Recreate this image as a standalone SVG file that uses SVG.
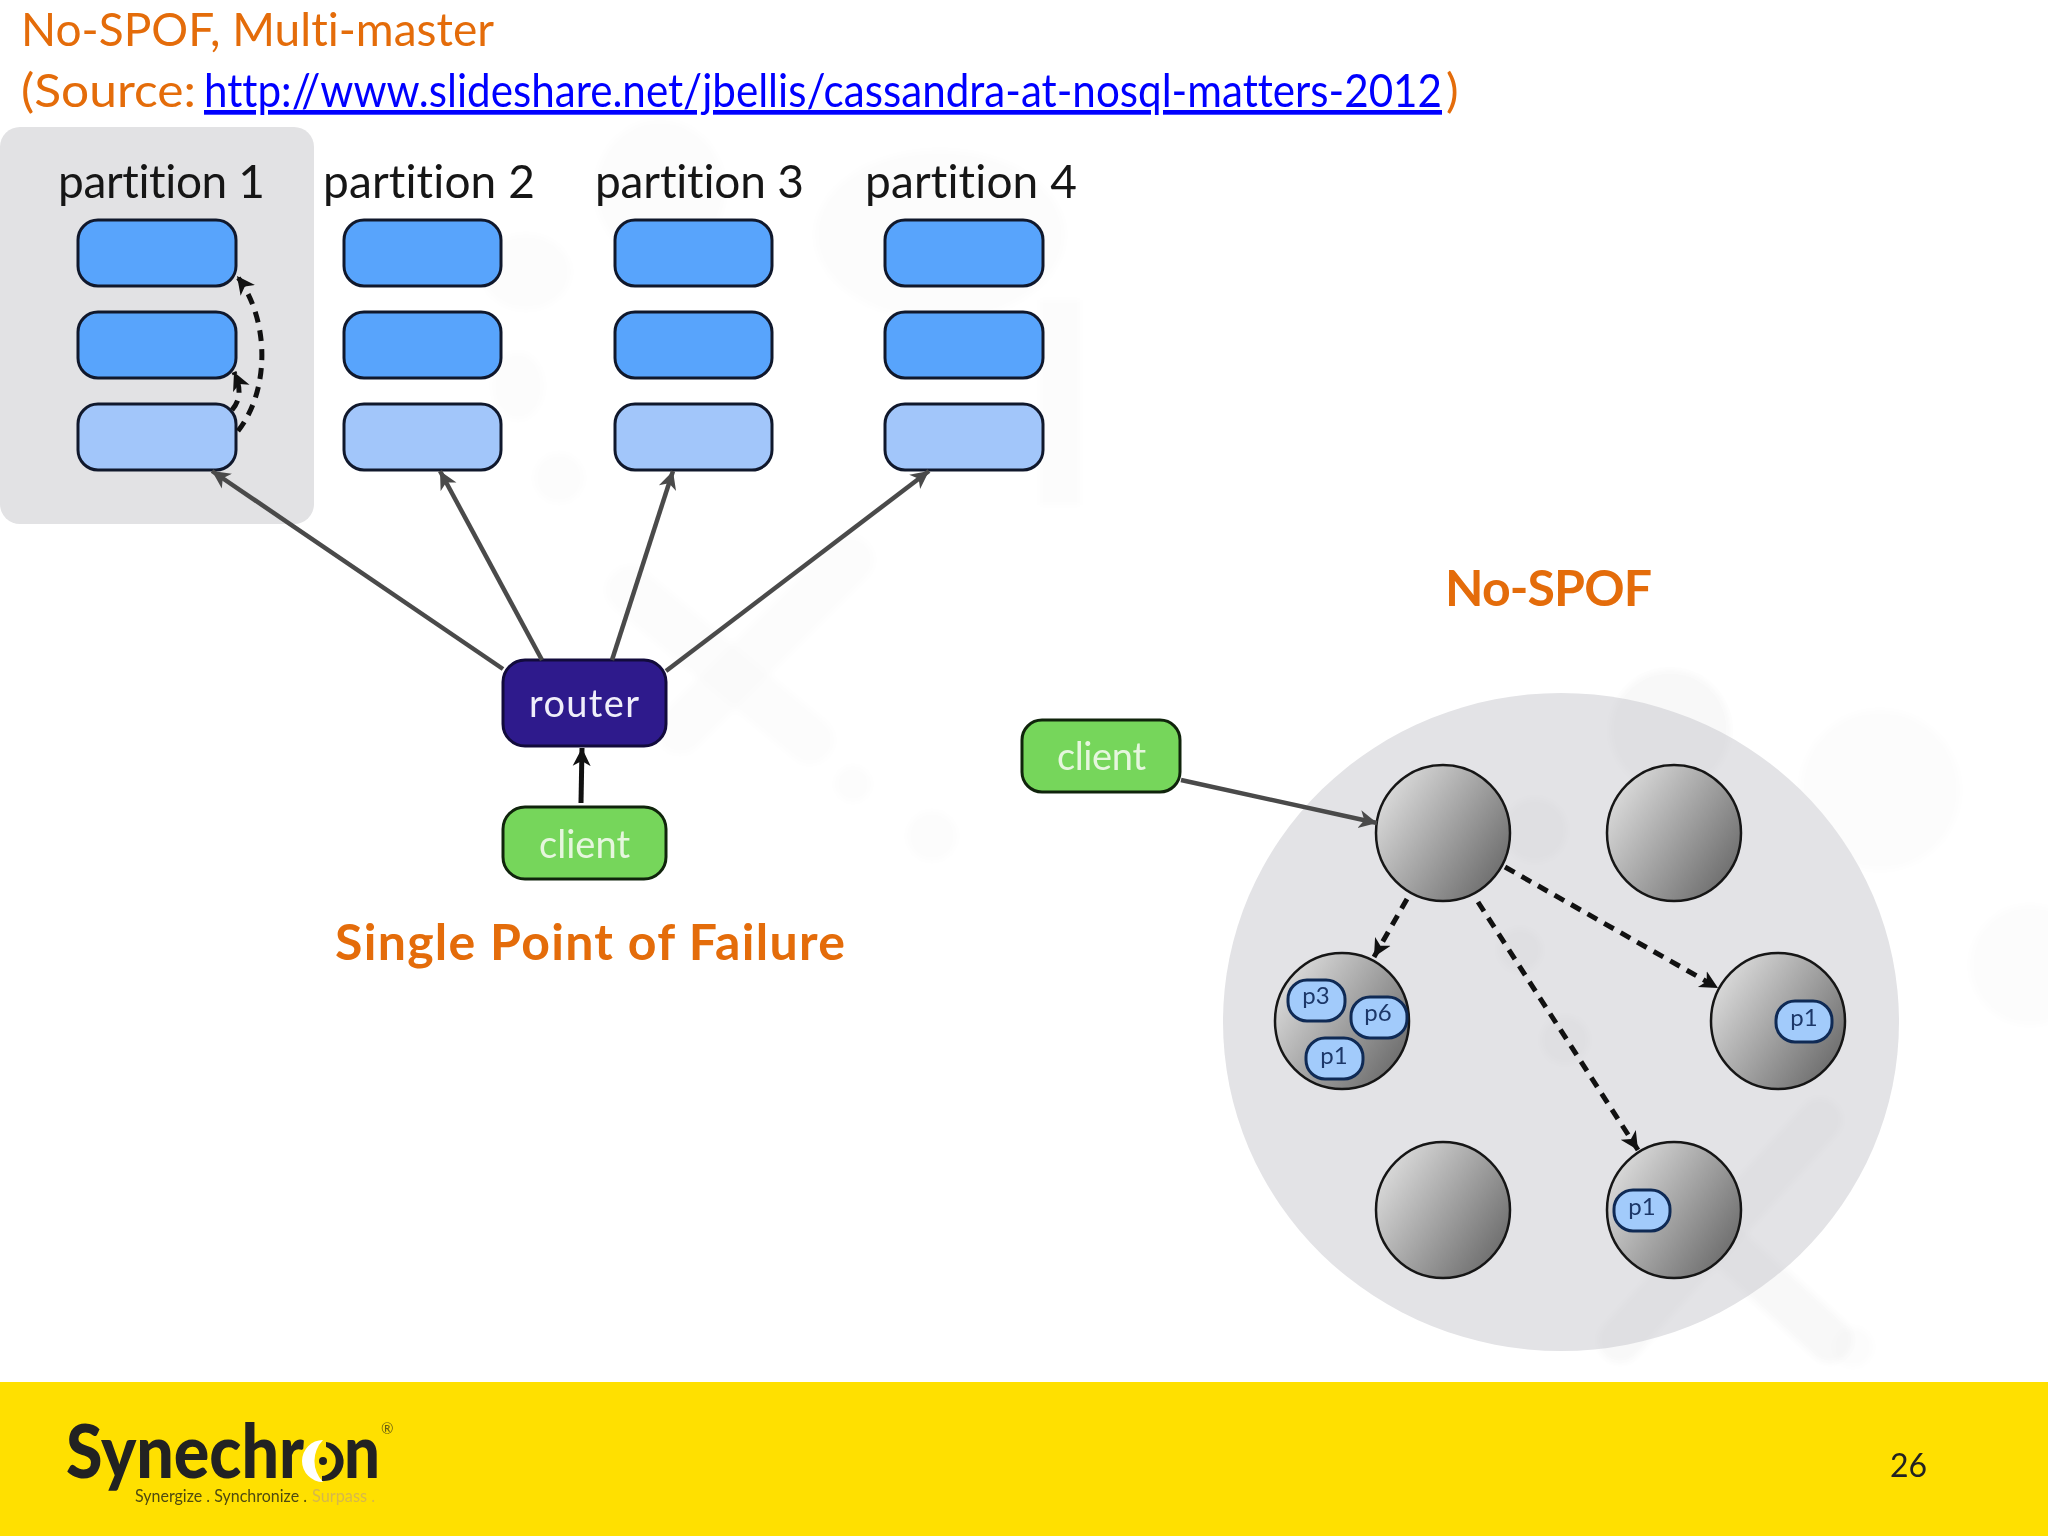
<svg xmlns="http://www.w3.org/2000/svg" width="2048" height="1536" viewBox="0 0 2048 1536">
<style>
text{font-variant-ligatures:none}
.ttl{font-family:Lato,"Liberation Sans",sans-serif;font-size:47px;fill:#E46C0A}
.hd{font-family:Lato,"Liberation Sans",sans-serif;font-size:50px;font-weight:700;fill:#E46C0A}
.pt{font-family:Lato,"Liberation Sans",sans-serif;font-size:46px;fill:#161616}
.box{stroke:#10182c;stroke-width:3}
.d{fill:#58A4FC}.l{fill:#A2C6FA}
.node{stroke:#161616;stroke-width:2.5;fill:url(#g)}
.pill{fill:#A2CBFB;stroke:#0f2a55;stroke-width:3}
.pl{font-family:Lato,"Liberation Sans",sans-serif;font-size:24px;fill:#1c3768;text-anchor:middle}
.sl{fill:none;stroke:#4a4a4a;stroke-width:4.5;marker-end:url(#a1)}
.bl{fill:none;stroke:#111;stroke-width:5;marker-end:url(#a2)}
.ds{fill:none;stroke:#111;stroke-width:5;stroke-dasharray:11 8;marker-end:url(#a2)}
.cl{font-family:Lato,"Liberation Sans",sans-serif;font-size:38px;fill:#E6F6DE}
.grn{fill:#76D65B;stroke:#10240c;stroke-width:3}
.wm{fill:#000;opacity:.012}
.wl{stroke:#000;opacity:.012;stroke-width:48;stroke-linecap:round;fill:none}
.wm2{fill:#000;opacity:.016}
.wl2{stroke:#000;opacity:.014;stroke-width:44;stroke-linecap:round;fill:none}
.lg{font-family:Lato,"Liberation Sans",sans-serif;font-weight:900;font-size:74px;fill:#222}
.tg{font-family:Lato,"Liberation Sans",sans-serif;font-size:18px}
</style>
<defs>
<linearGradient id="g" x1="0" y1="0.15" x2="1" y2="0.85"><stop offset="0" stop-color="#e2e2e2"/><stop offset="1" stop-color="#666"/></linearGradient>
<marker id="a1" markerUnits="userSpaceOnUse" markerWidth="24" markerHeight="24" refX="18" refY="10" orient="auto"><path d="M0 1 L18 10 L0 19 L5 10Z" fill="#4a4a4a"/></marker>
<marker id="a2" markerUnits="userSpaceOnUse" markerWidth="24" markerHeight="24" refX="18" refY="10" orient="auto"><path d="M0 1 L18 10 L0 19 L5 10Z" fill="#111"/></marker>
<filter id="b" x="-20%" y="-20%" width="140%" height="140%"><feGaussianBlur stdDeviation="3"/></filter>
</defs>
<rect width="2048" height="1536" fill="#fff"/>
<g id="watermark" filter="url(#b)">
<ellipse class="wm" cx="660" cy="190" rx="65" ry="70"/>
<ellipse class="wm" cx="940" cy="235" rx="125" ry="85"/>
<ellipse class="wm" cx="526" cy="272" rx="45" ry="38"/>
<ellipse class="wm" cx="518" cy="386" rx="26" ry="34"/>
<ellipse class="wm" cx="559" cy="478" rx="25" ry="25"/>
<rect class="wm" x="1040" y="300" width="40" height="205"/>
<path class="wl" d="M630 590 L810 740"/>
<path class="wl" d="M850 560 L680 730"/>
<circle class="wm" cx="853" cy="784" r="18"/>
<circle class="wm" cx="932" cy="836" r="25"/>
<circle class="wm" cx="1670" cy="730" r="60"/>
<circle class="wm" cx="1880" cy="790" r="80"/>
<circle class="wm" cx="2030" cy="965" r="60"/>
<path class="wl" d="M1620 1340 L1820 1120"/>
<path class="wl" d="M1720 1240 L1830 1340"/>
<circle class="wm" cx="1853" cy="1347" r="20"/>
</g>
<g id="titles">
<text class="ttl" x="21" y="46" textLength="473" lengthAdjust="spacingAndGlyphs">No-SPOF, Multi-master</text>
<text class="ttl" x="21" y="107" textLength="175" lengthAdjust="spacingAndGlyphs">(Source:</text>
<text class="ttl" x="204" y="107" textLength="1238" lengthAdjust="spacingAndGlyphs" style="fill:#0000FF;text-decoration:underline">http://www.slideshare.net/jbellis/cassandra-at-nosql-matters-2012</text>
<text class="ttl" x="1446" y="107">)</text>
</g>
<rect id="partition-panel" x="0" y="127" width="314" height="397" rx="20" fill="#e2e2e4"/>
<g id="labels">
<text class="pt" x="58" y="198" textLength="207">partition 1</text>
<text class="pt" x="323" y="198" textLength="212">partition 2</text>
<text class="pt" x="595" y="198" textLength="209">partition 3</text>
<text class="pt" x="865" y="198" textLength="212">partition 4</text>
<text class="hd" x="1445" y="606" textLength="207">No-SPOF</text>
<text class="hd" x="335" y="960" textLength="510">Single Point of Failure</text>
</g>
<g id="p1-1"><rect class="box d" x="78" y="220" width="158" height="66" rx="20"/></g>
<g id="p1-2"><rect class="box d" x="78" y="312" width="158" height="66" rx="20"/></g>
<g id="p1-3"><rect class="box l" x="78" y="404" width="158" height="66" rx="20"/></g>
<g id="p2-1"><rect class="box d" x="344" y="220" width="157" height="66" rx="20"/></g>
<g id="p2-2"><rect class="box d" x="344" y="312" width="157" height="66" rx="20"/></g>
<g id="p2-3"><rect class="box l" x="344" y="404" width="157" height="66" rx="20"/></g>
<g id="p3-1"><rect class="box d" x="615" y="220" width="157" height="66" rx="20"/></g>
<g id="p3-2"><rect class="box d" x="615" y="312" width="157" height="66" rx="20"/></g>
<g id="p3-3"><rect class="box l" x="615" y="404" width="157" height="66" rx="20"/></g>
<g id="p4-1"><rect class="box d" x="885" y="220" width="158" height="66" rx="20"/></g>
<g id="p4-2"><rect class="box d" x="885" y="312" width="158" height="66" rx="20"/></g>
<g id="p4-3"><rect class="box l" x="885" y="404" width="158" height="66" rx="20"/></g>
<g id="router"><rect x="503" y="660" width="163" height="86" rx="22" fill="#2E1A8C" stroke="#120b3c" stroke-width="3"/><text x="529" y="717" font-family="Lato,'Liberation Sans',sans-serif" font-size="38" fill="#f0eefa" textLength="110">router</text></g>
<g id="client-a"><rect class="grn" x="503" y="807" width="163" height="72" rx="22"/><text class="cl" x="539" y="858" textLength="91">client</text></g>
<g id="client-b"><rect class="grn" x="1022" y="720" width="158" height="72" rx="20"/><text class="cl" x="1057" y="770" textLength="89">client</text></g>
<ellipse id="ring" cx="1561" cy="1022" rx="338" ry="329" fill="#e3e3e6"/>
<g id="ring-watermark" filter="url(#b)">
<circle class="wm2" cx="1670" cy="730" r="60"/>
<circle class="wm2" cx="1535" cy="830" r="32"/>
<circle class="wm2" cx="1520" cy="950" r="22"/>
<circle class="wm2" cx="1565" cy="1040" r="24"/>
<path class="wl2" d="M1620 1340 L1820 1120"/>
<path class="wl2" d="M1720 1240 L1830 1340"/>
</g>
<g id="n1"><ellipse class="node" cx="1443" cy="833" rx="67" ry="68"/></g>
<g id="n2"><ellipse class="node" cx="1674" cy="833" rx="67" ry="68"/></g>
<g id="n3"><ellipse class="node" cx="1342" cy="1021" rx="67" ry="68"/>
<rect class="pill" x="1288" y="980" width="57" height="41" rx="19"/><text class="pl" x="1316" y="1004">p3</text>
<rect class="pill" x="1351" y="997" width="56" height="41" rx="19"/><text class="pl" x="1378" y="1021">p6</text>
<rect class="pill" x="1306" y="1038" width="57" height="41" rx="19"/><text class="pl" x="1334" y="1064">p1</text></g>
<g id="n4"><ellipse class="node" cx="1778" cy="1021" rx="67" ry="68"/>
<rect class="pill" x="1776" y="1001" width="56" height="41" rx="19"/><text class="pl" x="1804" y="1026">p1</text></g>
<g id="n5"><ellipse class="node" cx="1443" cy="1210" rx="67" ry="68"/></g>
<g id="n6"><ellipse class="node" cx="1674" cy="1210" rx="67" ry="68"/>
<rect class="pill" x="1614" y="1190" width="56" height="41" rx="19"/><text class="pl" x="1642" y="1215">p1</text></g>
<g id="connectors">
<path class="sl" d="M503 669 L212 471"/>
<path class="sl" d="M542 660 L440 471"/>
<path class="sl" d="M612 660 L673 471"/>
<path class="sl" d="M666 671 L929 471"/>
<path class="bl" d="M581 803 L582 748"/>
<path class="sl" d="M1181 780 L1377 823"/>
<path class="ds" d="M238 431 C270 390 270 320 237 276"/>
<path class="ds" d="M232 410 C240 400 242 390 234 372"/>
<path class="ds" d="M1407 899 L1374 957"/>
<path class="ds" d="M1505 867 L1718 988"/>
<path class="ds" d="M1478 902 L1638 1150"/>
</g>
<rect id="footer" x="0" y="1382" width="2048" height="154" fill="#FFE000"/>
<g id="logo">
<text class="lg" x="66" y="1478" textLength="238" lengthAdjust="spacingAndGlyphs">Synechr</text>
<path d="M323 1440 A21 21 0 0 0 323 1482 A30 30 0 0 1 323 1440Z" fill="#fff"/>
<path d="M326 1442 A19 19 0 0 1 322 1481 L322 1476 A15 15 0 0 0 326 1447Z" fill="#222"/>
<circle cx="323" cy="1461" r="4" fill="#222"/>
<text class="lg" x="344" y="1478" textLength="36" lengthAdjust="spacingAndGlyphs">n</text>
<text class="tg" x="135" y="1502" fill="#4f4a10" textLength="172" lengthAdjust="spacingAndGlyphs">Synergize . Synchronize .</text>
<text class="tg" x="312" y="1502" fill="#d7b84a" textLength="63" lengthAdjust="spacingAndGlyphs">Surpass .</text>
<text x="381" y="1434" font-family="Lato,'Liberation Sans',sans-serif" font-size="15" fill="#6a5f10">®</text>
</g>
<text id="page" x="1890" y="1477" font-family="Lato,'Liberation Sans',sans-serif" font-size="32" fill="#222">26</text>
</svg>
